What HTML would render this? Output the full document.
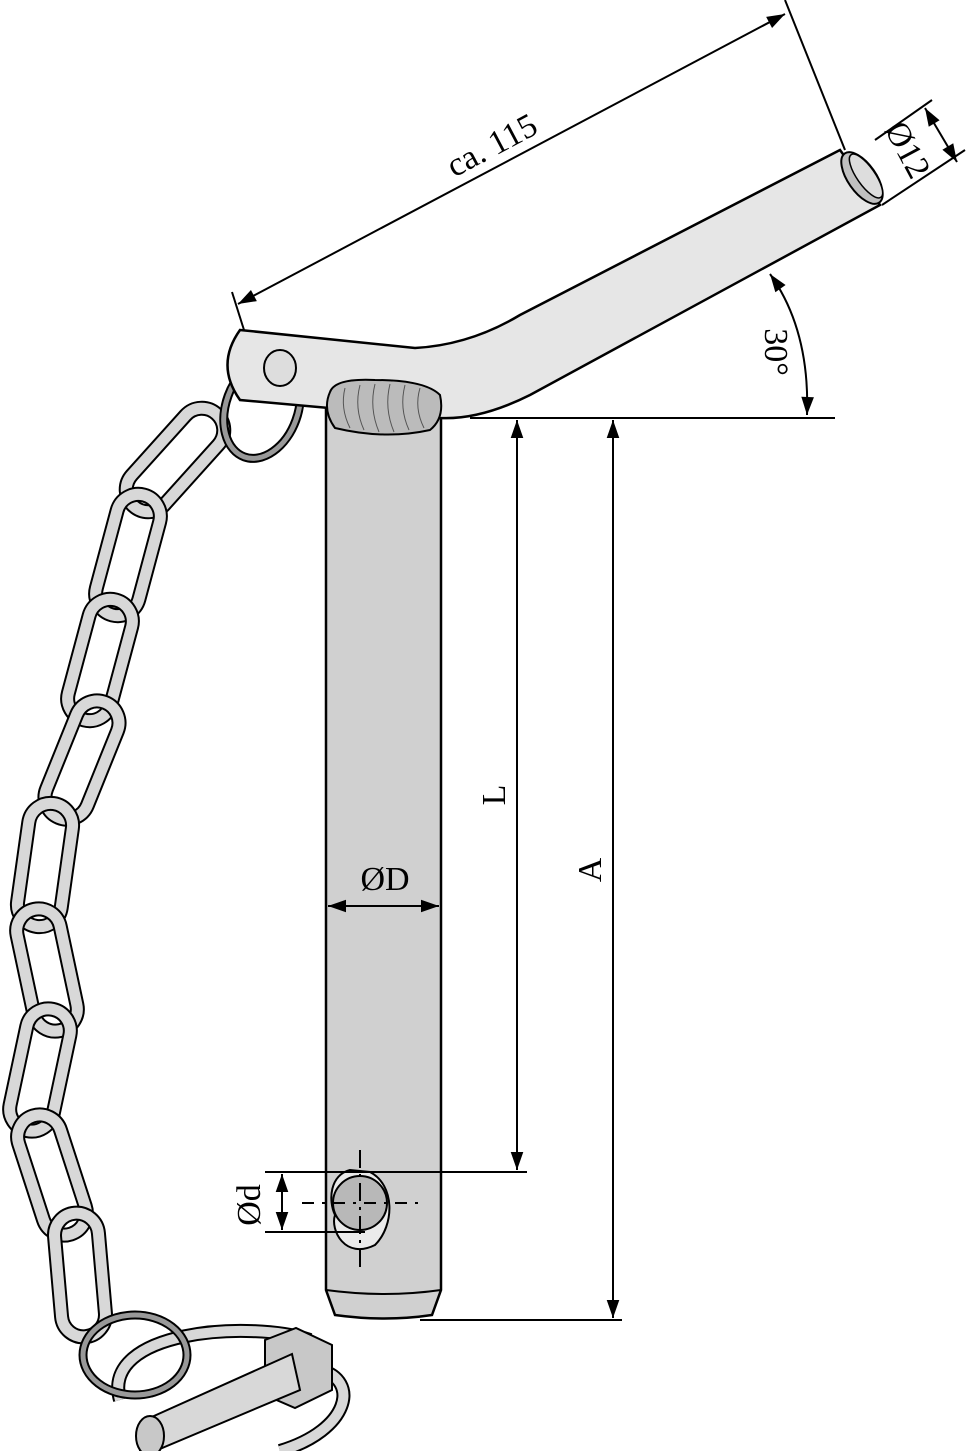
<!DOCTYPE html>
<html><head><style>html,body{margin:0;padding:0;background:#fff}svg{display:block}</style></head>
<body>
<svg width="970" height="1451" viewBox="0 0 970 1451" xmlns="http://www.w3.org/2000/svg" font-family="Liberation Serif, serif">
<defs>
<marker id="ar" viewBox="0 0 10 10" refX="10" refY="5" markerWidth="20" markerHeight="18" markerUnits="userSpaceOnUse" orient="auto-start-reverse"><path d="M0,1.5 L10,5 L0,8.5z" fill="#000"/></marker>
<g id="lk"><rect x="-22" y="-62" width="44" height="124" rx="22" fill="none" stroke="#000" stroke-width="15"/><rect x="-22" y="-62" width="44" height="124" rx="22" fill="none" stroke="#d8d8d8" stroke-width="11"/></g>
</defs>
<g>
<use href="#lk" transform="translate(175,460) rotate(42)"/>
<use href="#lk" transform="translate(128,555) rotate(15)"/>
<use href="#lk" transform="translate(100,660) rotate(15)"/>
<use href="#lk" transform="translate(82,760) rotate(22)"/>
<use href="#lk" transform="translate(45,865) rotate(8)"/>
<use href="#lk" transform="translate(47,970) rotate(-12)"/>
<use href="#lk" transform="translate(40,1070) rotate(12)"/>
<use href="#lk" transform="translate(52,1175) rotate(-18)"/>
<use href="#lk" transform="translate(80,1275) rotate(-5)"/>
</g>
<path d="M120,1400 C100,1330 250,1320 310,1340" fill="none" stroke="#000" stroke-width="14"/>
<path d="M120,1400 C100,1330 250,1320 310,1340" fill="none" stroke="#d8d8d8" stroke-width="10"/>
<path d="M320,1370 C360,1380 350,1430 280,1451" fill="none" stroke="#000" stroke-width="14"/>
<path d="M320,1370 C360,1380 350,1430 280,1451" fill="none" stroke="#d8d8d8" stroke-width="10"/>
<ellipse cx="135" cy="1355" rx="52" ry="40" fill="none" stroke="#000" stroke-width="9"/>
<ellipse cx="135" cy="1355" rx="52" ry="40" fill="none" stroke="#999" stroke-width="5"/>
<path d="M265,1340 L296,1328 L332,1345 L332,1390 L295,1408 L265,1395z" fill="#c8c8c8" stroke="#000" stroke-width="2"/>
<path d="M145,1420 L292,1354 L300,1390 L155,1451 L140,1451z" fill="#d8d8d8" stroke="#000" stroke-width="2"/>
<ellipse cx="150" cy="1436" rx="14" ry="20" fill="#c8c8c8" stroke="#000" stroke-width="2"/>
<ellipse cx="262" cy="408" rx="36" ry="52" transform="rotate(20 262 408)" fill="none" stroke="#000" stroke-width="9"/>
<ellipse cx="262" cy="408" rx="36" ry="52" transform="rotate(20 262 408)" fill="none" stroke="#999" stroke-width="5"/>
<path d="M326,400 L441,400 L441,1290 L432,1315 Q385,1322 335,1315 L326,1290z" fill="#d0d0d0" stroke="#000" stroke-width="2.5"/>
<path d="M326,1290 Q385,1298 441,1290" fill="none" stroke="#000" stroke-width="2"/>
<path d="M350,1170 C330,1175 328,1200 335,1215 C330,1230 345,1260 375,1245 C395,1225 395,1185 370,1172z" fill="#ebebeb" stroke="#000" stroke-width="2"/>
<circle cx="360" cy="1203" r="27" fill="#b8b8b8" stroke="#000" stroke-width="2"/>
<path d="M240,330 L415,348 Q470,345 520,315 L840,150 L880,205 L530,395 Q480,420 440,418 L240,400 Q215,365 240,330z" fill="#e6e6e6" stroke="#000" stroke-width="2.5"/>
<ellipse cx="862" cy="178" rx="14" ry="30" transform="rotate(-35 862 178)" fill="#c0c0c0" stroke="#000" stroke-width="2"/>
<ellipse cx="866" cy="176" rx="9" ry="26" transform="rotate(-35 866 176)" fill="#ddd" stroke="#000" stroke-width="1.5"/>
<ellipse cx="280" cy="368" rx="16" ry="18" fill="#ddd" stroke="#000" stroke-width="2"/>
<path d="M330,392 Q335,378 375,380 Q425,380 440,395 Q445,418 430,430 Q385,440 335,428 Q322,410 330,392z" fill="#bbb" stroke="#000" stroke-width="2"/>
<g stroke="#555" stroke-width="1" fill="none">
<path d="M345,388 Q340,408 350,428"/><path d="M360,385 Q354,408 364,430"/><path d="M375,384 Q369,408 379,432"/><path d="M390,384 Q384,408 394,432"/><path d="M405,385 Q399,408 409,430"/><path d="M420,388 Q414,408 424,428"/>
</g>
<g stroke="#000" stroke-width="2" fill="none">
<line x1="470" y1="418" x2="835" y2="418"/>
<line x1="517" y1="420" x2="517" y2="1170" marker-start="url(#ar)" marker-end="url(#ar)"/>
<line x1="613" y1="420" x2="613" y2="1318" marker-start="url(#ar)" marker-end="url(#ar)"/>
<line x1="265" y1="1172" x2="527" y2="1172"/>
<line x1="265" y1="1232" x2="365" y2="1232"/>
<line x1="420" y1="1320" x2="622" y2="1320"/>
<line x1="282" y1="1174" x2="282" y2="1230" marker-start="url(#ar)" marker-end="url(#ar)"/>
<line x1="328" y1="906" x2="439" y2="906" marker-start="url(#ar)" marker-end="url(#ar)"/>
<line x1="232" y1="292" x2="244" y2="330"/>
<line x1="785" y1="0" x2="845" y2="150"/>
<line x1="238" y1="304" x2="785" y2="14" marker-start="url(#ar)" marker-end="url(#ar)"/>
<line x1="875" y1="140" x2="932" y2="100"/>
<line x1="882" y1="205" x2="965" y2="150"/>
<line x1="925" y1="108" x2="957" y2="162" marker-start="url(#ar)" marker-end="url(#ar)"/>
<path d="M770,274 Q810,330 807,415" marker-start="url(#ar)" marker-end="url(#ar)"/>
<line x1="360" y1="1150" x2="360" y2="1270" stroke-dasharray="18,6,3,6"/>
<line x1="302" y1="1203" x2="420" y2="1203" stroke-dasharray="12,8,3,8"/>
</g>
<g font-size="34" fill="#000">
<text x="385" y="890" text-anchor="middle">ØD</text>
<text transform="translate(505,795) rotate(-90)" text-anchor="middle">L</text>
<text transform="translate(601,870) rotate(-90)" text-anchor="middle">A</text>
<text transform="translate(260,1205) rotate(-90)" text-anchor="middle">Ød</text>
<text transform="translate(497,155) rotate(-28)" text-anchor="middle">ca. 115</text>
<text transform="translate(898,155) rotate(62)" text-anchor="middle">Ø12</text>
<text transform="translate(765,352) rotate(90)" text-anchor="middle">30°</text>
</g>
</svg>
</body></html>
